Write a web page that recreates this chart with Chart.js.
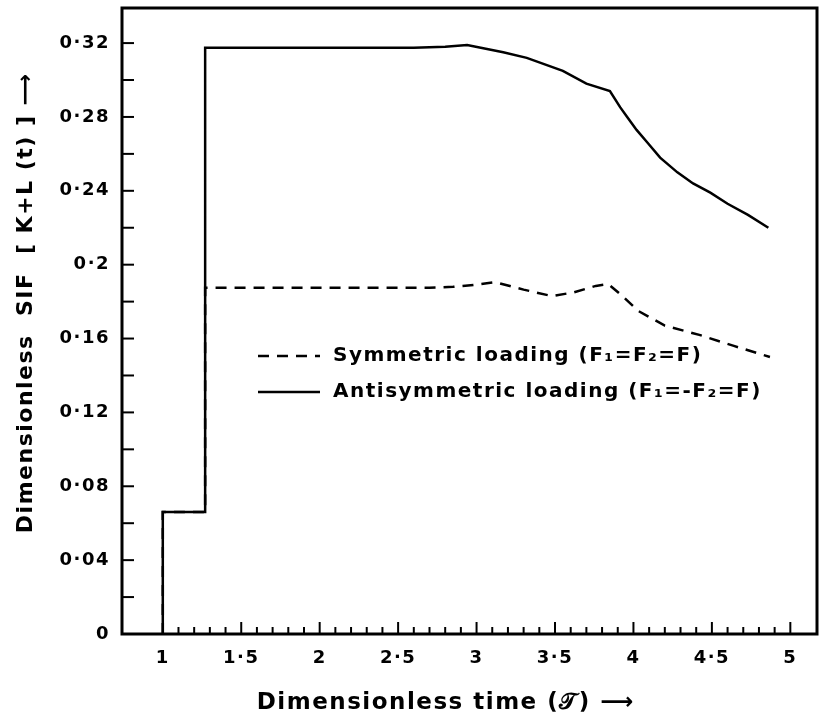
<head>
    <script src="https://cdn.jsdelivr.net/npm/chart.js"></script>
</head>
<body style="margin:0;background:#fff">
<div style="width:820px;height:720px">
    <canvas id="sifChart" width="820" height="720"></canvas>
</div>
<script>
    // tick labels (dot shown as middle dot like the original)
    const xLabelTicks = [1, 1.5, 2, 2.5, 3, 3.5, 4, 4.5, 5];
    const yLabelTicks = [0, 0.04, 0.08, 0.12, 0.16, 0.2, 0.24, 0.28, 0.32];

    // symmetric loading (dashed)
    const symT = [1, 1, 1.27, 1.27, 2.0, 2.7, 2.85, 2.98, 3.12, 3.3, 3.48, 3.62, 3.76, 3.84, 3.93, 4.03, 4.2, 4.42, 4.64, 4.87];
    const symK = [0, 0.066, 0.066, 0.1875, 0.1875, 0.1875, 0.188, 0.189, 0.1905, 0.1865, 0.183, 0.185, 0.1885, 0.1895, 0.183, 0.175, 0.167, 0.162, 0.156, 0.150];

    // antisymmetric loading (solid)
    const antiT = [1, 1, 1.27, 1.27, 2.0, 2.6, 2.8, 2.94, 3.17, 3.32, 3.55, 3.70, 3.85, 3.915, 3.96, 4.02, 4.09, 4.17, 4.28, 4.38, 4.49, 4.60, 4.73, 4.86];
    const antiK = [0, 0.066, 0.066, 0.3175, 0.3175, 0.3175, 0.318, 0.319, 0.315, 0.312, 0.305, 0.298, 0.294, 0.2853, 0.280, 0.273, 0.266, 0.258, 0.250, 0.244, 0.239, 0.233, 0.227, 0.220];

    const FONT = 'DejaVu Sans';
    const dotFmt = v => String(+v.toFixed(2)).replace('.', '·');
    const pts = (xs, ys) => xs.map((x, i) => ({x: x, y: ys[i]}));

    // the old lettering is wide, so space the letters a little
    const spacing = {
        id: 'spacing',
        beforeLayout(chart) { chart.ctx.letterSpacing = '1.5px'; },
        beforeDraw(chart) { chart.ctx.letterSpacing = '1.5px'; }
    };

    // box round the plot, inward ticks, legend inside the plot
    const frame = {
        id: 'frame',
        afterDraw(chart) {
            const {ctx, chartArea: a, scales: {x, y}} = chart;
            ctx.save();
            ctx.strokeStyle = '#000';
            ctx.lineWidth = 2;
            x.ticks.forEach(t => {
                if (t.value <= 1) return;
                const px = x.getPixelForValue(t.value);
                const major = Math.abs(t.value * 2 - Math.round(t.value * 2)) < 1e-6;
                ctx.beginPath();
                ctx.moveTo(px, a.bottom);
                ctx.lineTo(px, a.bottom - (major ? 12 : 7));
                ctx.stroke();
            });
            y.ticks.forEach(t => {
                if (t.value <= 0) return;
                const py = y.getPixelForValue(t.value);
                ctx.beginPath();
                ctx.moveTo(a.left, py);
                ctx.lineTo(a.left + 12, py);
                ctx.stroke();
            });
            ctx.lineWidth = 3;
            ctx.strokeRect(a.left, a.top, a.right - a.left, a.bottom - a.top);

            // legend
            const lx = a.left + 136, rows = [a.top + 348, a.top + 384];
            ctx.font = 'bold 20px ' + FONT;
            ctx.textBaseline = 'middle';
            ctx.fillStyle = '#000';
            [0, 1].forEach(i => {
                const ds = chart.data.datasets[i];
                ctx.lineWidth = 2.5;
                ctx.setLineDash(ds.borderDash || []);
                ctx.beginPath();
                ctx.moveTo(lx, rows[i]);
                ctx.lineTo(lx + 62, rows[i]);
                ctx.stroke();
                ctx.setLineDash([]);
                ctx.fillText(ds.label, lx + 75, rows[i]);
            });
            ctx.restore();
        }
    };

    new Chart(document.getElementById('sifChart'), {
        type: 'scatter',
        data: {
            datasets: [{
                label: 'Symmetric loading (F₁=F₂=F)',
                data: pts(symT, symK),
                showLine: true,
                borderColor: '#000',
                borderWidth: 2.5,
                borderDash: [11, 8],
                pointRadius: 0,
                tension: 0
            }, {
                label: 'Antisymmetric loading (F₁=-F₂=F)',
                data: pts(antiT, antiK),
                showLine: true,
                borderColor: '#000',
                borderWidth: 2.5,
                pointRadius: 0,
                tension: 0
            }]
        },
        options: {
            responsive: false,
            animation: false,
            layout: {padding: {left: 0, right: 3, top: 8, bottom: 0}},
            plugins: {legend: {display: false}, tooltip: {enabled: false}},
            scales: {
                x: {
                    type: 'linear',
                    min: 0.74,
                    max: 5.17,
                    afterBuildTicks: s => {
                        const t = [];
                        for (let v = 1; v < 5.05; v += 0.1) t.push({value: +v.toFixed(1)});
                        s.ticks = t;
                    },
                    afterFit: s => { s.height = 86; s.paddingLeft = 0; s.paddingRight = 0; },
                    grid: {display: false, drawTicks: false},
                    border: {display: false},
                    ticks: {
                        autoSkip: false,
                        maxRotation: 0,
                        padding: 14,
                        color: '#000',
                        font: {family: FONT, size: 18, weight: 'bold'},
                        callback: v => xLabelTicks.some(l => Math.abs(l - v) < 1e-6) ? dotFmt(v) : ''
                    },
                    title: {
                        display: true,
                        text: 'Dimensionless time (𝒯) ⟶     ',
                        color: '#000',
                        padding: {top: 0, bottom: 3},
                        font: {family: FONT, size: 23, weight: 'bold'}
                    }
                },
                y: {
                    min: 0,
                    max: 0.339,
                    afterBuildTicks: s => {
                        const t = [];
                        for (let v = 0; v < 0.335; v += 0.02) t.push({value: +v.toFixed(2)});
                        s.ticks = t;
                    },
                    afterFit: s => { s.width = 122; s.paddingTop = 0; s.paddingBottom = 0; },
                    grid: {display: false, drawTicks: false},
                    border: {display: false},
                    ticks: {
                        autoSkip: false,
                        padding: 12,
                        color: '#000',
                        font: {family: FONT, size: 18, weight: 'bold'},
                        callback: v => yLabelTicks.some(l => Math.abs(l - v) < 1e-6) ? dotFmt(v) : ''
                    },
                    title: {
                        display: true,
                        text: '    Dimensionless  SIF  [ K+L (t) ] ⟶',
                        color: '#000',
                        padding: {top: 13, bottom: 0},
                        font: {family: FONT, size: 22, weight: 'bold'}
                    }
                }
            }
        },
        plugins: [spacing, frame]
    });
</script>
</body>
